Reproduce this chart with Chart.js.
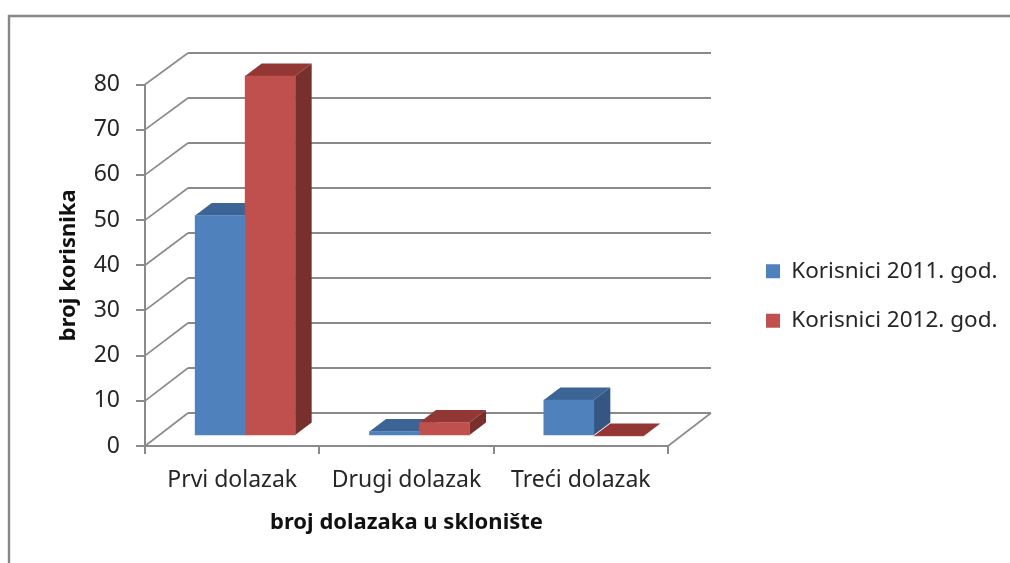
<!DOCTYPE html>
<html><head><meta charset="utf-8">
<style>html,body{margin:0;padding:0;background:#fff;overflow:hidden}canvas{display:block}</style>
<script src="https://cdn.jsdelivr.net/npm/chart.js@4"></script>
</head><body><canvas id="c" width="1010" height="563"></canvas>
<script>
const categories = ["Prvi dolazak", "Drugi dolazak", "Treći dolazak"];
const series2011 = [49, 1, 8];
const series2012 = [80, 3, 0];
const seriesNames = ["Korisnici 2011. god.", "Korisnici 2012. god."];
const yTicks = [0,10,20,30,40,50,60,70,80];

const GREY = "#8a8a8a", TXT = "#262626", FONT = "'Noto Sans'";
const WALL = {dx:43, dy:-33, k:0.9958};
const BAR = {dx:13, dy:-10, ddx:16.5, ddy:-12.5};
const DEPTH = [{top:"#3c6494", side:"#355680"},{top:"#933735", side:"#78302d"}];

const depth3d = {
  id:"depth3d",
  beforeDraw(chart){
    const c = chart.ctx; c.save();
    c.fillStyle="#fff"; c.fillRect(0,0,chart.width,chart.height);
    c.strokeStyle="#868686"; c.lineWidth=2.4;
    c.beginPath(); c.moveTo(9,chart.height); c.lineTo(9,16); c.lineTo(chart.width,16); c.stroke();
    c.restore();
  },
  afterLayout(chart){
    const l = chart.legend;
    const h = l.bottom-l.top;
    l.left = 739; l.right = chart.width;
    l.top = 296-h/2; l.bottom = l.top+h;
  },
  beforeDatasetsDraw(chart){
    const c = chart.ctx, x = chart.scales.x, y = chart.scales.y;
    const y0 = y.getPixelForValue(0);
    c.save();
    c.strokeStyle = GREY; c.lineCap="butt";
    y.ticks.forEach(t=>{
      const py = y.getPixelForValue(t.value);
      const by = y0+WALL.dy+(py-y0)*WALL.k;
      c.lineWidth=1.6; c.beginPath(); c.moveTo(x.left,py); c.lineTo(x.left+WALL.dx,by); c.stroke();
      c.lineWidth=2; c.beginPath(); c.moveTo(x.left+WALL.dx,by); c.lineTo(x.right+WALL.dx,by); c.stroke();
    });
    c.lineWidth=1.6; c.beginPath(); c.moveTo(x.right,y0); c.lineTo(x.right+WALL.dx,y0+WALL.dy); c.stroke();
    c.translate(BAR.dx,BAR.dy+y0*(1-WALL.k));
    c.scale(1,WALL.k);
    chart.data.datasets.forEach((ds,i)=>{
      chart.getDatasetMeta(i).data.forEach(b=>{
        const p = b.getProps(["x","y","base","width"],true);
        const L=p.x-p.width/2, R=p.x+p.width/2, T=p.y, B=p.base;
        c.fillStyle = DEPTH[i].side;
        c.beginPath(); c.moveTo(R,T); c.lineTo(R+BAR.ddx,T+BAR.ddy); c.lineTo(R+BAR.ddx,B+BAR.ddy); c.lineTo(R,B); c.closePath(); c.fill();
        c.fillStyle = DEPTH[i].top;
        c.beginPath(); c.moveTo(L,T); c.lineTo(R,T); c.lineTo(R+BAR.ddx,T+BAR.ddy); c.lineTo(L+BAR.ddx,T+BAR.ddy); c.closePath(); c.fill();
      });
    });
  },
  afterDatasetsDraw(chart){ chart.ctx.restore(); }
};

new Chart(document.getElementById("c"),{
  type:"bar",
  data:{labels:categories,datasets:[
    {label:seriesNames[0],data:series2011,backgroundColor:"#4f81bd",borderWidth:0},
    {label:seriesNames[1],data:series2012,backgroundColor:"#c0504d",borderWidth:0}
  ]},
  plugins:[depth3d],
  options:{
    responsive:false,animation:false,
    layout:{padding:{left:56,right:138,top:84.5,bottom:0}},
    datasets:{bar:{barThickness:50,clip:false}},
    plugins:{
      tooltip:{enabled:false},
      legend:{position:"right",labels:{boxWidth:14,boxHeight:14,padding:27,color:TXT,font:{family:FONT,size:22.5}}}
    },
    scales:{
      x:{
        afterFit(s){s.height=117;},
        grid:{drawOnChartArea:false,drawTicks:true,tickLength:8,color:GREY,lineWidth:2},
        border:{color:GREY,width:2},
        ticks:{color:TXT,padding:13,font:{family:FONT,size:23},maxRotation:0},
        title:{display:true,text:"broj dolazaka u sklonište",color:"#111",padding:{top:0,bottom:27},font:{family:FONT,size:22,weight:"bold"}}
      },
      y:{
        min:0,max:80,
        afterFit(s){s.width=89;},
        afterBuildTicks(s){s.ticks=yTicks.map(v=>({value:v}));},
        grid:{drawOnChartArea:false,drawTicks:true,tickLength:9,color:GREY,lineWidth:2},
        border:{color:GREY,width:2},
        ticks:{color:TXT,padding:16,font:{family:FONT,size:23}},
        title:{display:true,text:"broj korisnika",color:"#111",padding:{top:0,bottom:0},font:{family:FONT,size:22,weight:"bold"}}
      }
    }
  }
});
</script></body></html>
